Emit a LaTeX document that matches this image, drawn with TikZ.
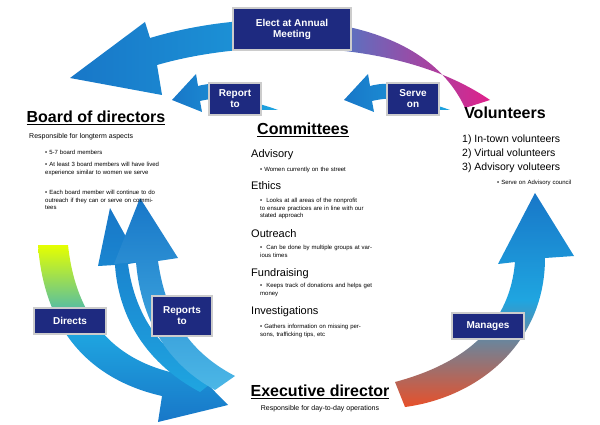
\documentclass[tikz,border=0pt]{standalone}
\usepackage{fontspec}
\setmainfont{Liberation Sans}
\begin{document}
\begin{tikzpicture}[x=1pt,y=-1pt,
 lbl/.style={fill=navy,draw=gray!40,line width=1.5pt,text=white,font=\bfseries\fontsize{10}{11}\selectfont,align=center,inner sep=3pt},
 head/.style={font=\bfseries\fontsize{16}{18}\selectfont,inner sep=0pt},
 sub/.style={font=\fontsize{7}{8}\selectfont,align=left,inner sep=0pt,anchor=north west},
 cat/.style={font=\fontsize{11}{12}\selectfont,inner sep=0pt,anchor=north west},
 bul/.style={font=\fontsize{6}{7.5}\selectfont,align=left,inner sep=0pt,anchor=north west,text width=#1},
 bul/.default=115pt]
\definecolor{navy}{HTML}{1E2A80}
\definecolor{ablue}{HTML}{1877C8}
\definecolor{cyanb}{HTML}{1FA5E0}
\definecolor{mag}{HTML}{E0208A}
\definecolor{redo}{HTML}{E8502A}
\useasboundingbox (0,0) rectangle (600,425);
\fill[white] (0,0) rectangle (600,425);
% top arrow
\shade[left color=ablue,right color=mag,middle color=cyanb!70!ablue]
 (465,108) .. controls (420,10) and (260,5) .. (150,38) -- (145,22) -- (70,78) -- (162,95) -- (157,65) .. controls (250,38) and (400,38) .. (490,100) -- cycle;
% right arrow
\shade[shading angle=35,bottom color=redo,top color=ablue,middle color=cyanb]
 (395,382) .. controls (470,362) and (510,322) .. (515,262) -- (498,264) -- (535,193) -- (574,256) -- (545,258) .. controls (545,342) and (480,397) .. (405,407) -- cycle;
% left (directs) arrow
\shade[top color=yellow!90!green,bottom color=ablue,middle color=cyanb]
 (38,245) .. controls (45,340) and (100,382) .. (162,396) -- (158,422) -- (228,405) -- (176,352) -- (170,372) .. controls (115,358) and (76,320) .. (68,245) -- cycle;
% reports-to arrows
\shade[shading angle=20,top color=ablue,bottom color=cyanb]
 (200,392) .. controls (140,360) and (118,310) .. (115,265) -- (98,266) -- (110,208) -- (140,262) -- (128,264) .. controls (135,315) and (160,355) .. (215,380) -- cycle;
\shade[shading angle=20,top color=ablue,bottom color=cyanb!80]
 (215,390) .. controls (160,360) and (140,310) .. (136,262) -- (114,264) -- (140,198) -- (178,258) -- (158,261) .. controls (165,310) and (185,350) .. (235,376) -- cycle;
% small arrows
\shade[left color=ablue,right color=cyanb]
 (262,110) .. controls (252,85) and (220,80) .. (198,86) -- (196,74) -- (172,100) -- (202,112) -- (200,101) .. controls (220,96) and (245,98) .. (278,110) -- cycle;
\shade[left color=ablue,right color=cyanb]
 (434,110) .. controls (424,85) and (392,80) .. (370,86) -- (368,74) -- (344,100) -- (374,112) -- (372,101) .. controls (392,96) and (417,98) .. (450,110) -- cycle;
% labels
\node[lbl,minimum width=118pt,minimum height=42pt] (elect) at (292,29) {Elect at Annual\\Meeting};
\node[lbl,minimum width=52pt,minimum height=32pt] (rep) at (235,99) {Report\\to};
\node[lbl,minimum width=52pt,minimum height=32pt] (serve) at (413,99) {Serve\\on};
\node[lbl,minimum width=72pt,minimum height=26pt] (dir) at (70,321) {Directs};
\node[lbl,minimum width=60pt,minimum height=40pt] (rto) at (182,316) {Reports\\to};
\node[lbl,minimum width=72pt,minimum height=26pt] (man) at (488,326) {Manages};
% headings
\node[head] (board) at (96,118) {\underline{Board of directors}};
\node[sub] at (29,133) {Responsible for longterm aspects};
\node[bul] at (45,150) {\raggedright • 5-7 board members};
\node[bul] at (45,162) {\raggedright • At least 3 board members will have lived experience similar to women we serve};
\node[bul] at (45,190) {\raggedright • Each board member will continue to do\ \ outreach if they can or serve on commitees};
\node[head] (vol) at (505,113) {Volunteers};
\node[font=\fontsize{10.5}{14}\selectfont,align=left,anchor=north west,inner sep=0pt] at (462,135) {1) In-town volunteers\\2) Virtual volunteers\\3) Advisory voluteers};
\node[bul] at (497,180) {• Serve on Advisory council};
\node[head] (com) at (303,130) {\underline{Committees}};
\node[cat] at (251,149) {Advisory};
\node[bul] at (260,167) {• Women currently on the street};
\node[cat] at (251,181) {Ethics};
\node[bul=112pt] at (260,198) {\raggedright • \ Looks at all areas of the nonprofit to ensure practices are in line with our stated approach};
\node[cat] at (251,229) {Outreach};
\node[bul=112pt] at (260,245) {\raggedright • \ Can be done by multiple groups at various times};
\node[cat] at (251,268) {Fundraising};
\node[bul=112pt] at (260,283) {\raggedright • \ Keeps track of donations and helps get money};
\node[cat] at (251,306) {Investigations};
\node[bul=112pt] at (260,324) {\raggedright • Gathers information on missing persons, trafficking tips, etc};
\node[head] (exec) at (320,392) {\underline{Executive director}};
\node[font=\fontsize{7}{8}\selectfont,inner sep=0pt] at (320,409) {Responsible for day-to-day operations};
\end{tikzpicture}
\end{document}
